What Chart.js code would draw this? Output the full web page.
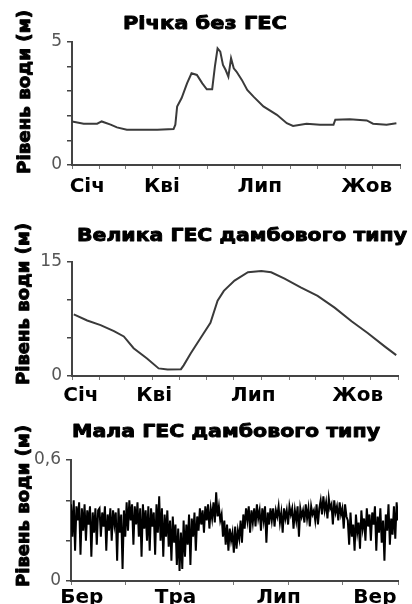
<!DOCTYPE html>
<html>
<head>
<meta charset="utf-8">
<script src="https://cdn.jsdelivr.net/npm/chart.js@4/dist/chart.umd.min.js"></script>
<style>
  body { margin: 0; background: #fff; }
  canvas { position: absolute; left: 0; }
</style>
</head>
<body>
<canvas id="c1" width="412" height="202" style="top:0"></canvas>
<canvas id="c2" width="412" height="202" style="top:202px"></canvas>
<canvas id="c3" width="412" height="200" style="top:404px"></canvas>
<script>
// Річка без ГЕС (day of year, metres)
const riverDays = [0, 13, 28, 33, 43, 50, 61, 76, 95, 113, 115, 117, 122, 128, 133, 139, 145, 150, 156, 159, 162, 165, 168, 171, 174, 177, 180, 183, 189, 195, 202, 213, 228, 239, 246, 261, 276, 291, 293, 309, 328, 335, 350, 361];
const riverLevel = [1.77, 1.68, 1.68, 1.77, 1.64, 1.53, 1.43, 1.43, 1.43, 1.46, 1.64, 2.38, 2.72, 3.32, 3.73, 3.66, 3.32, 3.08, 3.08, 4.0, 4.74, 4.61, 4.07, 3.86, 3.59, 4.34, 3.93, 3.8, 3.46, 3.05, 2.78, 2.38, 2.04, 1.7, 1.59, 1.68, 1.64, 1.64, 1.84, 1.86, 1.81, 1.68, 1.64, 1.7];
const riverLabels = ['Січ', 'Кві', 'Лип', 'Жов'];
const riverLabelDays = [17, 100, 209, 328];

// Велика ГЕС дамбового типу
const bigDays = [2, 17, 32, 47, 58, 69, 84, 97, 107, 122, 125, 133, 144, 155, 163, 170, 182, 197, 212, 223, 238, 256, 275, 294, 313, 331, 350, 363];
const bigLevel = [8.1, 7.3, 6.7, 5.9, 5.2, 3.65, 2.3, 1.0, 0.85, 0.9, 1.4, 3.0, 5.0, 7.0, 9.9, 11.2, 12.55, 13.65, 13.8, 13.65, 12.8, 11.65, 10.55, 9.0, 7.2, 5.65, 3.9, 2.75];
const bigLabels = ['Січ', 'Кві', 'Лип', 'Жов'];
const bigLabelDays = [10, 92, 203, 320];

const monthDays = [0, 31, 59, 90, 120, 151, 181, 212, 243, 273, 304, 334, 365];

// Мала ГЕС дамбового типу (sample index)
const smallLevel = [
  0.38,0.22,0.40,0.15,0.37,0.30,0.39,0.13,0.36,0.25,0.38,0.20,0.35,0.28,0.37,0.12,0.34,0.24,0.36,0.18,0.35,
  0.36,0.22,0.34,0.27,0.37,0.15,0.33,0.25,0.36,0.20,0.35,0.28,0.34,0.10,0.36,0.24,0.33,0.06,0.35,0.22,
  0.39,0.25,0.40,0.30,0.38,0.18,0.37,0.28,0.39,0.22,0.36,0.12,0.38,0.26,0.35,0.20,0.37,0.15,0.36,0.27,0.34,0.13,
  0.38,0.24,0.42,0.20,0.36,0.12,0.33,0.22,0.35,0.17,0.30,0.10,0.32,0.19,0.28,0.08,0.26,0.05,
  0.24,0.06,0.30,0.12,0.28,0.18,0.33,0.08,0.31,0.22,0.34,0.15,0.32,0.25,0.36,
  0.28,0.35,0.24,0.37,0.30,0.38,0.26,0.36,0.31,0.39,0.29,0.44,0.32,0.37,0.30,
  0.33,0.22,0.30,0.18,0.28,0.15,0.26,0.20,0.24,0.14,0.27,0.16,0.25,0.21,0.30,0.19,0.33,
  0.26,0.36,0.30,0.37,0.24,0.35,0.29,0.36,0.27,0.38,0.31,0.35,0.25,0.36,0.30,0.37,0.19,0.34,0.28,0.36,
  0.30,0.36,0.27,0.35,0.32,0.37,0.29,0.34,0.24,0.36,0.31,0.35,0.28,0.37,0.33,0.36,0.26,0.35,0.30,0.37,0.22,0.36,0.32,0.35,0.29,0.38,0.31,0.36,0.27,0.37,0.33,0.35,0.30,0.38,0.28,0.36,
  0.40,0.33,0.42,0.35,0.39,0.31,0.41,0.36,0.38,0.28,0.40,0.34,0.37,0.30,0.39,0.33,0.36,0.26,0.38,0.32,
  0.30,0.18,0.34,0.22,0.28,0.15,0.33,0.24,0.29,0.16,0.35,0.26,0.31,0.20,0.36,0.27,0.33,
  0.20,0.34,0.28,0.37,0.15,0.32,0.24,0.36,0.19,0.30,0.10,0.33,0.25,0.38,0.18,0.31,0.23,0.37,0.21,0.39,0.30
];
const smallLabels = ['Бер', 'Тра', 'Лип', 'Вер'];
const smallLabelPos = [8, 77, 153, 224];
const smallTickPos = [0, 40, 80, 120, 160, 200, 241];

const AXIS = '#444';

// heavy text squeezed/stretched to a given width
function heavyText(ctx, str, x, y, size, width) {
  ctx.font = 'bold ' + size + 'px "DejaVu Sans"';
  const w = ctx.measureText(str).width;
  ctx.save();
  ctx.translate(x, y);
  ctx.scale(width / w, 1);
  ctx.lineWidth = 0.9;
  ctx.lineJoin = 'round';
  ctx.strokeText(str, 0, 0);
  ctx.fillText(str, 0, 0);
  ctx.restore();
}

// title and rotated y title at fixed spots
const textPlugin = {
  id: 'texts',
  afterDraw(chart, args, o) {
    const ctx = chart.ctx;
    ctx.save();
    ctx.fillStyle = '#000';
    ctx.strokeStyle = '#000';
    ctx.textAlign = 'center';
    ctx.textBaseline = 'middle';
    heavyText(ctx, o.title, o.tx, o.ty, 18, o.tw);
    ctx.translate(o.lx, o.ly);
    ctx.rotate(-Math.PI / 2);
    heavyText(ctx, 'Рівень води (м)', 0, 0, 17, o.lw);
    ctx.restore();
  }
};

function makeChart(id, points, color, xMin, xMax, gridTicks, labelPos, labels, yMax, yStep, yFmt, text, pad) {
  return new Chart(document.getElementById(id), {
    type: 'line',
    data: {
      datasets: [{
        data: points,
        borderColor: color,
        borderWidth: pad.lw,
        pointRadius: 0,
        tension: 0
      }]
    },
    options: {
      responsive: false,
      animation: false,
      devicePixelRatio: 1,
      layout: { padding: { left: 0, right: pad.right, top: pad.top, bottom: 0 } },
      plugins: { legend: { display: false }, tooltip: { enabled: false }, texts: text },
      scales: {
        y: {
          min: 0, max: yMax,
          afterFit: s => { s.width = pad.left; },
          ticks: { stepSize: yStep, color: '#555', font: { family: 'DejaVu Sans', size: 17 }, padding: 5, callback: yFmt },
          grid: { drawOnChartArea: false, tickLength: 5, color: AXIS, lineWidth: 1.5 },
          border: { color: AXIS, width: 2 }
        },
        x: {
          type: 'linear', min: xMin, max: xMax, weight: 0,
          afterFit: s => { s.height = 5; },
          afterBuildTicks: s => { s.ticks = gridTicks.map(v => ({ value: v })); },
          ticks: { display: false },
          grid: { drawOnChartArea: false, tickLength: 4, color: '#777', lineWidth: 1 },
          border: { color: AXIS, width: 2 }
        },
        x2: {
          type: 'linear', position: 'bottom', min: xMin, max: xMax, weight: 1,
          afterFit: s => { s.height = pad.labels; },
          afterBuildTicks: s => { s.ticks = labelPos.map(v => ({ value: v })); },
          ticks: {
            color: '#000', font: { family: 'DejaVu Sans', size: 20, weight: 'bold' }, padding: pad.lp,
            maxRotation: 0, autoSkip: false,
            callback: (v, i) => labels[i]
          },
          grid: { display: false, drawTicks: false },
          border: { display: false }
        }
      }
    },
    plugins: [textPlugin]
  });
}

makeChart('c1', riverDays.map((d, i) => ({ x: d, y: riverLevel[i] })), '#3a3a3a', 0, 365, monthDays,
  riverLabelDays, riverLabels, 5, 1, v => (v === 0 || v === 5) ? String(v) : '',
  { title: 'Річка без ГЕС', tx: 205, ty: 24, tw: 164, lx: 26, ly: 92, lw: 164 },
  { left: 72, right: 12, top: 42, labels: 32, lp: 5, lw: 2 });

makeChart('c2', bigDays.map((d, i) => ({ x: d, y: bigLevel[i] })), '#3a3a3a', 0, 365, monthDays,
  bigLabelDays, bigLabels, 15, 5, v => (v === 0 || v === 15) ? String(v) : '',
  { title: 'Велика ГЕС дамбового типу', tx: 242, ty: 34, tw: 330, lx: 25, ly: 102, lw: 162 },
  { left: 72, right: 14, top: 60, labels: 23, lp: 3, lw: 2 });

makeChart('c3', smallLevel.map((v, i) => ({ x: i, y: v })), '#000', 0, smallLevel.length - 1, smallTickPos,
  smallLabelPos, smallLabels, 0.6, 0.2, v => v === 0 ? '0' : (Math.abs(v - 0.6) < 1e-6 ? '0,6' : ''),
  { title: 'Мала ГЕС дамбового типу', tx: 226, ty: 28, tw: 308, lx: 25, ly: 102, lw: 162 },
  { left: 71, right: 14, top: 56, labels: 18, lp: 0, lw: 2 });
</script>
</body>
</html>
